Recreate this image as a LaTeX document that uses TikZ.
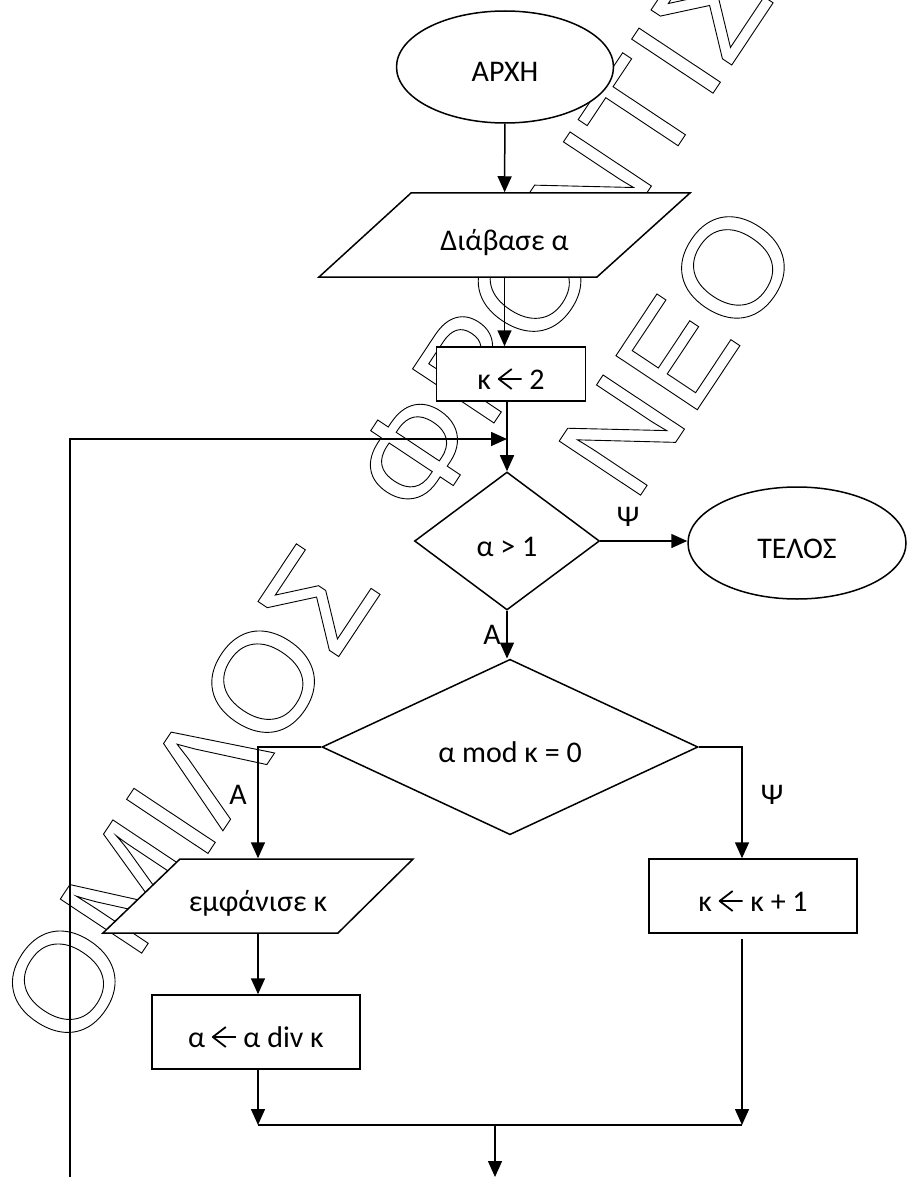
\documentclass[tikz,border=0pt]{standalone}
\usepackage{fontspec}
\setmainfont{Carlito}
\newfontfamily\stampfont{Liberation Sans}
\usetikzlibrary{shapes.geometric,arrows.meta}
\newcommand{\getsarrow}{\tikz[baseline=0pt]\draw[line width=1.8pt,line join=round] (14pt,20pt) -- (1pt,10pt) -- (14pt,0pt) (1pt,10pt) -- (24pt,10pt);}
\newcommand{\hollow}[1]{\special{pdf:literal direct 1 Tr 0.9 w}#1\special{pdf:literal direct 0 Tr}}
\tikzset{
  txt/.style={inner sep=0pt,text height=31pt,text depth=1pt,font=\fontsize{30}{34}\selectfont},
  fig/.style={txt,draw,line width=1.5pt,fill=white},
  term/.style={fig,ellipse,minimum width=217pt,minimum height=112pt},
  proc/.style={fig,rectangle,minimum width=208pt,minimum height=74pt},
  iobox/.style={line width=1.5pt,fill=white},
  test/.style={fig,diamond},
  arr/.style={line width=1.5pt,-{Triangle[width=14pt,length=16pt]}},
  lbl/.style={inner sep=0pt,font=\fontsize{30}{34}\selectfont},
  stamp/.style={anchor=base west,inner sep=0pt,rotate=56.4,font=\stampfont\fontsize{142}{142}\selectfont}
}
\begin{document}
\begin{tikzpicture}[x=1pt,y=-1pt]
    \useasboundingbox (0,0) rectangle (910,1177);
    \node[stamp] (wmtop) at (74,1055) {\hollow{ΟΜΙΛΟΣ \hspace{36pt}ΦΡΟΝΤΙΣ}};
    \node[stamp] (wmneo) at (634,505) {\hollow{ΝΕΟ}};
    \node[term] (start) at (505,67) {ΑΡΧΗ};
    \draw[iobox] (411,193) -- (690,193) -- (597,277) -- (319,277) -- cycle
        node[txt,minimum width=279pt,minimum height=84pt] (read) at (504.5,235) {Διάβασε α};
    \node[proc,minimum width=149pt,minimum height=54pt] (init) at (511,374) {κ \getsarrow{} 2};
    \coordinate (join) at (507,439);
    \coordinate (loopfoot) at (70,1177);
    \node[test,minimum width=185pt,minimum height=138pt] (cond) at (507,541) {α > 1};
    \node[term,minimum width=218pt] (stop) at (797,543) {ΤΕΛΟΣ};
    \node[test,minimum width=376pt,minimum height=140pt] (divides) at (510,747) {α mod κ = 0};
    \draw[iobox] (180,859) -- (413,859) -- (338,933) -- (103,933) -- cycle
        node[txt,minimum width=233pt,minimum height=74pt] (show) at (258,896) {εμφάνισε κ};
    \node[proc] (divide) at (256,1032) {α \getsarrow{} α div κ};
    \node[proc] (next) at (753,896) {κ \getsarrow{} κ + 1};
    \coordinate (mergeL) at (258,1125);
    \coordinate (mergeR) at (742,1125);
    \coordinate (gapR) at (742,939);
    \coordinate (merge) at (495,1125);
    \coordinate (exit) at (495,1177);
    \draw[arr] (start) -- (read);
    \draw[arr] (read) -- (read |- init.north);
    \draw[arr] (init.south -| cond) -- (cond);
    \draw[arr] (loopfoot) |- (join);
    \draw[arr] (cond.east) -- (cond.east -| stop.west);
    \node[lbl] (psi1) at (628,517) {Ψ};
    \draw[arr] (cond) -- (cond |- divides.north);
    \node[lbl] (yes1) at (492,635) {Α};
    \draw[arr] (divides.west) -| (show.north -| mergeL);
    \node[lbl] (yes2) at (238,795) {Α};
    \draw[arr] (divides.east) -| (next.north -| mergeR);
    \node[lbl] (psi2) at (772,795) {Ψ};
    \draw[arr] (show.south -| mergeL) -- (divide.north -| mergeL);
    \draw[arr] (divide.south -| mergeL) -- (mergeL);
    \draw[arr] (gapR) -- (mergeR);
    \draw[line width=1.5pt] (mergeL) -- (mergeR);
    \draw[arr] (merge) -- (exit);
\end{tikzpicture}
\end{document}
